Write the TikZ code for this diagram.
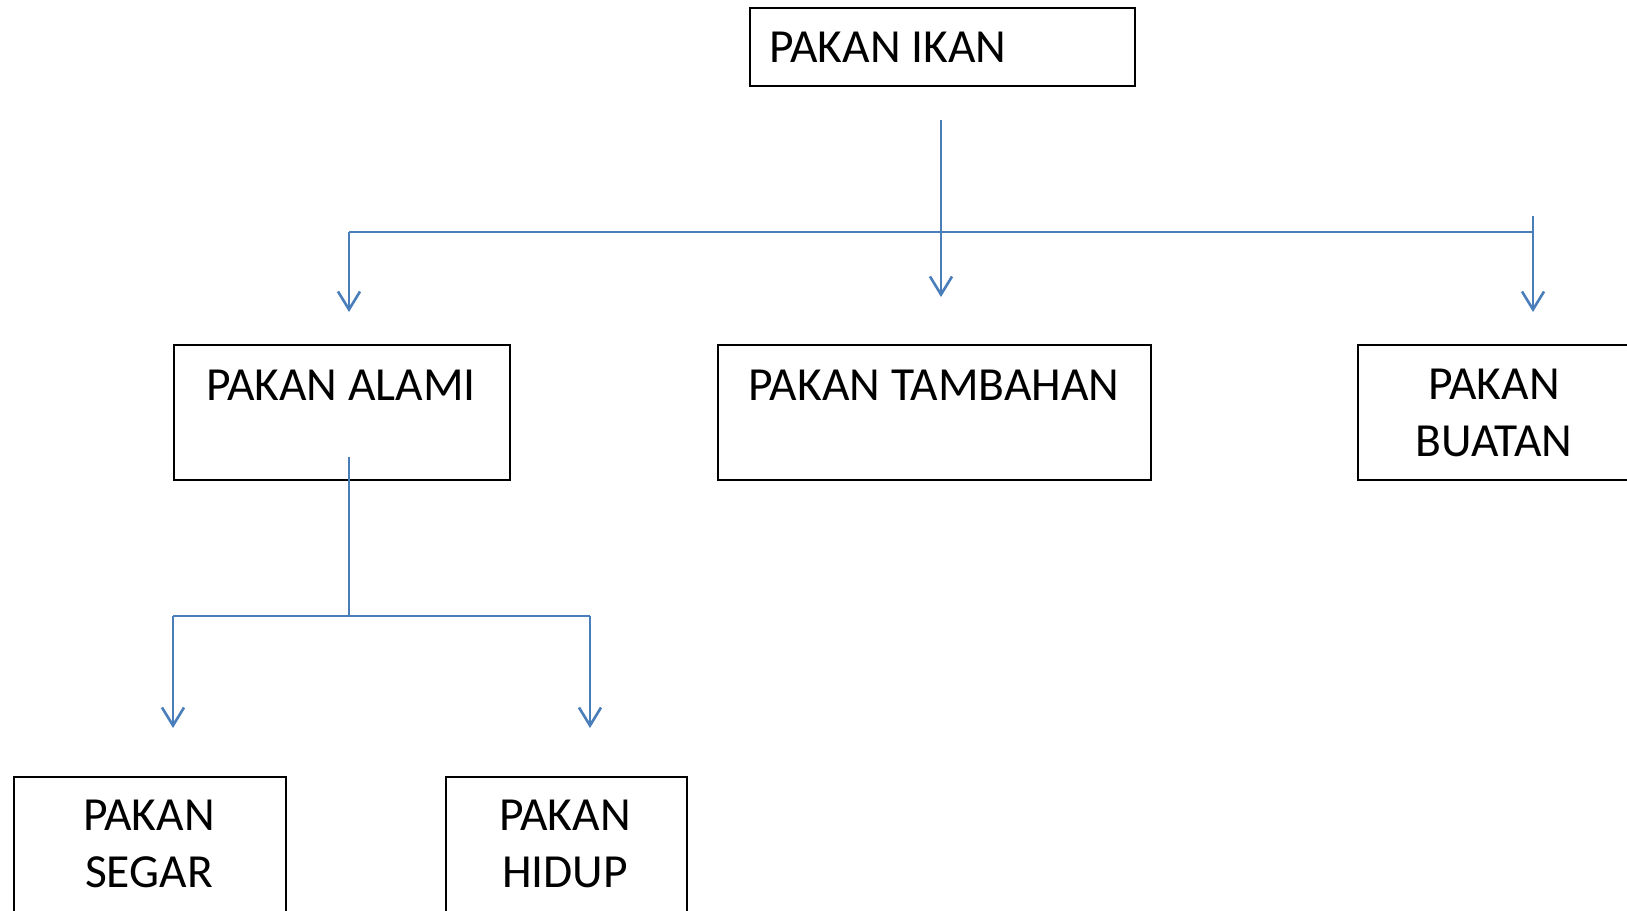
\documentclass[tikz,border=0pt]{standalone}
\usepackage{fontspec}
\setmainfont{Carlito}
\usetikzlibrary{arrows.meta,calc}
\definecolor{lineblue}{HTML}{4A7EBB}
\begin{document}
\begin{tikzpicture}[x=1pt,y=-1pt,
  box/.style={draw=black,line width=2pt,inner sep=0pt,anchor=north west},
  lbl/.style={font=\fontsize{47.5}{57}\selectfont,align=center,inner sep=0pt},
  conn/.style={draw=lineblue,line width=2.6pt},
  arr/.style={conn,-{Straight Barb[length=18pt,width=22pt]}}]
\useasboundingbox (0,0) rectangle (1627,910);
% boxes
\node[box,minimum width=385pt,minimum height=78pt] (ikan) at (749,7) {};
\node[box,minimum width=336pt,minimum height=135pt] (alami) at (173,344) {};
\node[box,minimum width=433pt,minimum height=135pt] (tambahan) at (717,344) {};
\node[box,minimum width=275pt,minimum height=135pt] (buatan) at (1357,344) {};
\node[box,minimum width=272pt,minimum height=160pt] (segar) at (13,776) {};
\node[box,minimum width=241pt,minimum height=160pt] (hidup) at (445,776) {};
% labels
\node[lbl,anchor=base west] (ikanT) at (769,62) {PAKAN IKAN};
\node[lbl,anchor=base] (alamiT) at (341,400) {PAKAN ALAMI};
\node[lbl,anchor=base] (tambahanT) at (934,400) {PAKAN TAMBAHAN};
\node[lbl,anchor=base] (buatanT) at (1494,456) {PAKAN\\BUATAN};
\node[lbl,anchor=base] (segarT) at (149,887) {PAKAN\\SEGAR};
\node[lbl,anchor=base] (hidupT) at (565,887) {PAKAN\\HIDUP};
% connector points
\coordinate (ikanS) at (941,120);
\coordinate (tamA) at (941,297);
\coordinate (hL) at (349,232);
\coordinate (hR) at (1533,232);
\coordinate (rTop) at (1533,216);
\coordinate (alamiA) at (349,312);
\coordinate (buatanA) at (1533,312);
\coordinate (alamiS) at (349,457);
\coordinate (aJ) at (349,616);
\coordinate (sL) at (173,616);
\coordinate (sR) at (590,616);
\coordinate (segarA) at (173,728);
\coordinate (hidupA) at (590,728);
% connectors
\draw[arr] (ikanS) -- (tamA);
\draw[conn] (hL) -- (hR);
\draw[arr] (hL) -- (alamiA);
\draw[arr] (rTop) -- (buatanA);
\draw[conn] (alamiS) -- (aJ);
\draw[conn] (sL) -- (sR);
\draw[arr] (sL) -- (segarA);
\draw[arr] (sR) -- (hidupA);
\end{tikzpicture}
\end{document}
